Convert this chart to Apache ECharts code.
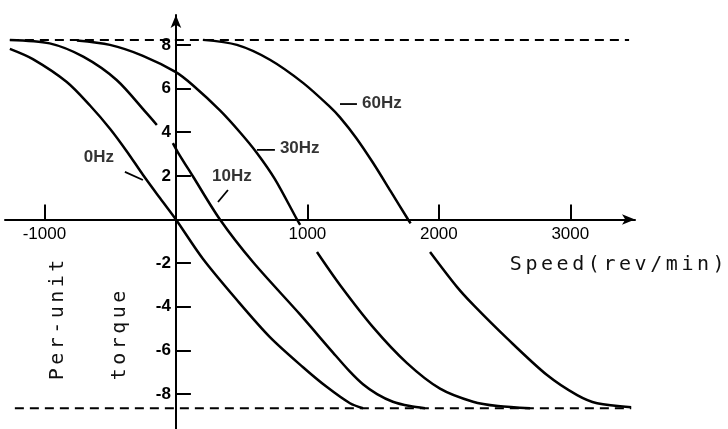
<!DOCTYPE html>
<html><head><meta charset="utf-8">
<script src="https://cdn.jsdelivr.net/npm/echarts@6/dist/echarts.min.js"></script>
<style>html,body{margin:0;padding:0;background:#fff}#c{width:728px;height:429px}</style>
</head><body><div id="c"></div>
<script>
// ---- data ----
const xTicks = [-1000, 1000, 2000, 3000];
const yTicks = [-8, -6, -4, -2, 2, 4, 6, 8];
const limitUpper = [[-1263, 8.23], [3447, 8.23]];
const limitLower = [[-1225, -8.65], [3463, -8.65]];
const hz0 = [[-1263, 7.82], [-1088, 7.35], [-830, 6.3], [-650, 5.2], [-500, 4.15], [-373, 3.12], [-251, 2.05], [-120, 0.97], [0, 0], [205, -1.8], [464, -3.69], [715, -5.39], [967, -6.77], [1149, -7.68], [1324, -8.42], [1423, -8.65]];
const hz10Upper = [[-1263, 8.23], [-960, 8.07], [-705, 7.46], [-451, 6.39], [-223, 4.87], [-145, 4.33]];
const hz10Lower = [[-23, 3.5], [15, 3.08], [129, 1.98], [335, 0], [586, -1.95], [944, -4.35], [1195, -6.1], [1320, -6.95], [1423, -7.55], [1530, -8.0], [1650, -8.35], [1780, -8.55], [1895, -8.65]];
const hz30Upper = [[-753, 8.2], [-502, 8.0], [-251, 7.5], [0, 6.75], [129, 6.15], [335, 5.0], [487, 4.0], [616, 3.05], [753, 1.85], [921, 0], [945, -0.25]];
const hz30Lower = [[1073, -1.49], [1248, -3.0], [1499, -4.93], [1758, -6.58], [2009, -7.75], [2260, -8.35], [2450, -8.55], [2694, -8.65]];
const hz60Upper = [[205, 8.23], [464, 8.0], [715, 7.32], [967, 6.26], [1172, 5.16], [1248, 4.68], [1370, 3.75], [1499, 2.6], [1633, 1.3], [1766, 0], [1785, -0.18]];
const hz60Lower = [[1933, -1.49], [2139, -3.1], [2268, -3.95], [2519, -5.45], [2823, -7.13], [3052, -8.05], [3204, -8.42], [3463, -8.6]];
const curveNames = ['0Hz', '10Hz', '30Hz', '60Hz'];
const curveLabelAt = [[-586, 2.86], [426, 1.99], [791, 3.28], [1416, 5.34]];
const pointer0 = [[-388, 2.18], [-251, 1.81]];
const pointer10 = [[396, 1.35], [320, 0.8]];
const pointer30 = [[616, 3.19], [753, 3.19]];
const pointer60 = [[1248, 5.29], [1377, 5.29]];
const xTitle = 'Speed(rev/min)';
const yTitle1 = 'Per-unit';
const yTitle2 = 'torque';

// ---- layout ----
const W = 728, H = 429;
const G = {left: 5, right: 93, top: 15, bottom: 0};
const xMin = -1300, xMax = 3492, yMin = -9.6, yMax = 9.37;
const gridW = W - G.left - G.right, gridH = H - G.top - G.bottom;
const zeroX = G.left + (0 - xMin) / (xMax - xMin) * gridW;
const zeroY = G.top + (yMax - 0) / (yMax - yMin) * gridH;
const xAxisOffset = -(H - G.bottom - zeroY);
const yAxisOffset = -(zeroX - G.left);

// ---- chart ----
const chart = echarts.init(document.getElementById('c'), null, {renderer: 'canvas'});
const black = '#000';
function curve(data) {
  return {type: 'line', data: data, smooth: 0.3, symbol: 'none', showSymbol: false,
    lineStyle: {color: black, width: 2.5}, z: 3, silent: true};
}
function pointer(data) {
  return {type: 'line', data: data, smooth: false, symbol: 'none', showSymbol: false,
    lineStyle: {color: black, width: 1.8}, z: 3, silent: true};
}
function dashed(data) {
  return {type: 'line', data: data, symbol: 'none', showSymbol: false,
    lineStyle: {color: black, width: 2, type: [9, 6]}, z: 2, silent: true};
}
const monoFont = '"DejaVu Sans Mono", "Liberation Mono", monospace';
function spacedText(str, x0, y0, step, rotation) {
  const children = [];
  for (let i = 0; i < str.length; i++) {
    children.push({type: 'text', x: i * step + step / 2, y: 0,
      style: {text: str[i], font: '20px ' + monoFont, fill: '#111', align: 'center', verticalAlign: 'middle'}});
  }
  return {type: 'group', x: x0, y: y0, rotation: rotation || 0, children: children};
}
function near(v, list) { return list.some(t => Math.abs(v - t) < 1e-6); }
const sansFont = '"Liberation Sans", Arial, sans-serif';
const option = {
  animation: false,
  backgroundColor: '#fff',
  grid: Object.assign({containLabel: false, outerBoundsMode: 'none'}, G),
  xAxis: {
    type: 'value', min: xMin, max: xMax, interval: 100, position: 'bottom', offset: xAxisOffset,
    axisLine: {onZero: false, symbol: ['none', 'arrow'], symbolSize: [8, 13], lineStyle: {color: black, width: 2}},
    axisTick: {show: true, inside: true, length: 15, customValues: xTicks, lineStyle: {color: black, width: 2}},
    axisLabel: {show: true, interval: 0, hideOverlap: false, showMinLabel: true, showMaxLabel: true,
      formatter: v => near(v, xTicks) ? String(Math.round(v)) : '', margin: 6, color: black,
      fontSize: 17, fontFamily: sansFont},
    splitLine: {show: false}
  },
  yAxis: {
    type: 'value', min: yMin, max: yMax, interval: 0.2, position: 'left', offset: yAxisOffset,
    axisLine: {onZero: false, symbol: ['none', 'arrow'], symbolSize: [8, 13], lineStyle: {color: black, width: 2}},
    axisTick: {show: true, inside: true, length: 15, customValues: yTicks, lineStyle: {color: black, width: 2}},
    axisLabel: {show: true, interval: 0, hideOverlap: false,
      formatter: v => near(v, yTicks) ? String(Math.round(v)) : '', margin: 5, color: black,
      fontSize: 17, fontWeight: 'bold', fontFamily: sansFont},
    splitLine: {show: false}
  },
  series: [
    dashed(limitUpper), dashed(limitLower),
    curve(hz0), curve(hz10Upper), curve(hz10Lower), curve(hz30Upper), curve(hz30Lower),
    curve(hz60Upper), curve(hz60Lower),
    pointer(pointer0), pointer(pointer10), pointer(pointer30), pointer(pointer60),
    {type: 'scatter', symbolSize: 0, silent: true, z: 4,
      data: curveNames.map((n, i) => ({value: curveLabelAt[i], name: n,
        label: {align: i < 2 ? 'center' : 'left'}})),
      label: {show: true, position: 'inside', verticalAlign: 'middle', formatter: p => p.name,
        fontFamily: sansFont, fontSize: 17, fontWeight: 'bold', color: black}}
  ],
  graphic: [
    spacedText(xTitle, 508, 265, 15.6, 0),
    spacedText(yTitle1, 58, 382, 15.5, Math.PI / 2),
    spacedText(yTitle2, 120, 382, 15.5, Math.PI / 2)
  ]
};
chart.setOption(option);
</script>
</body></html>
